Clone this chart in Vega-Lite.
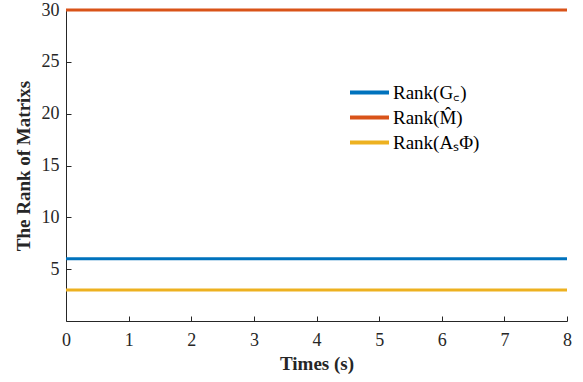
{
  "$schema": "https://vega.github.io/schema/vega-lite/v6.json",
  "width": 501,
  "height": 311,
  "autosize": {"type": "none"},
  "padding": {"left": 66, "top": 10, "right": 16, "bottom": 61},
  "background": "white",
  "config": {
    "view": {"stroke": null},
    "font": "Liberation Serif"
  },
  "data": {
    "values": [
      {"t": 0, "rank": 6, "series": "Rank(G꜀)"},
      {"t": 8, "rank": 6, "series": "Rank(G꜀)"},
      {"t": 0, "rank": 30, "series": "Rank(M̂)"},
      {"t": 8, "rank": 30, "series": "Rank(M̂)"},
      {"t": 0, "rank": 3, "series": "Rank(AₛΦ)"},
      {"t": 8, "rank": 3, "series": "Rank(AₛΦ)"}
    ]
  },
  "mark": {"type": "line", "strokeWidth": 3, "clip": false},
  "encoding": {
    "x": {
      "field": "t", "type": "quantitative",
      "scale": {"domain": [0, 8], "nice": false},
      "axis": {
        "title": "Times (s)", "values": [0,1,2,3,4,5,6,7,8],
        "grid": false, "tickSize": -5, "labelPadding": 15,
        "labelFont": "Liberation Serif", "titleFont": "Liberation Serif",
        "labelFontSize": 18, "labelColor": "#262626",
        "titleFontSize": 19, "titleFontWeight": "bold", "titleColor": "#262626",
        "titlePadding": 5,
        "domainColor": "#262626", "tickColor": "#262626", "labelFlush": false
      }
    },
    "y": {
      "field": "rank", "type": "quantitative",
      "scale": {"domain": [0, 30], "nice": false},
      "axis": {
        "title": "The Rank of Matrixs", "values": [5,10,15,20,25,30],
        "grid": false, "tickSize": -5, "labelPadding": 12,
        "labelFont": "Liberation Serif", "titleFont": "Liberation Serif",
        "labelFontSize": 18, "labelColor": "#262626",
        "titleFontSize": 19, "titleFontWeight": "bold", "titleColor": "#262626",
        "titlePadding": 8,
        "domainColor": "#262626", "tickColor": "#262626", "labelFlush": false
      }
    },
    "color": {
      "field": "series", "type": "nominal",
      "scale": {
        "domain": ["Rank(G꜀)", "Rank(M̂)", "Rank(AₛΦ)"],
        "range": ["#0072BD", "#D95319", "#EDB120"]
      },
      "sort": null,
      "legend": {
        "title": null, "orient": "none", "legendX": 294, "legendY": 73,
        "symbolType": "M-3,0H3", "symbolStrokeWidth": 4, "symbolSize": 169,
        "symbolFillColor": "transparent",
        "labelFont": "Liberation Serif",
        "labelFontSize": 19, "labelColor": "#000000", "rowPadding": 5,
        "labelOffset": 14
      }
    }
  }
}
